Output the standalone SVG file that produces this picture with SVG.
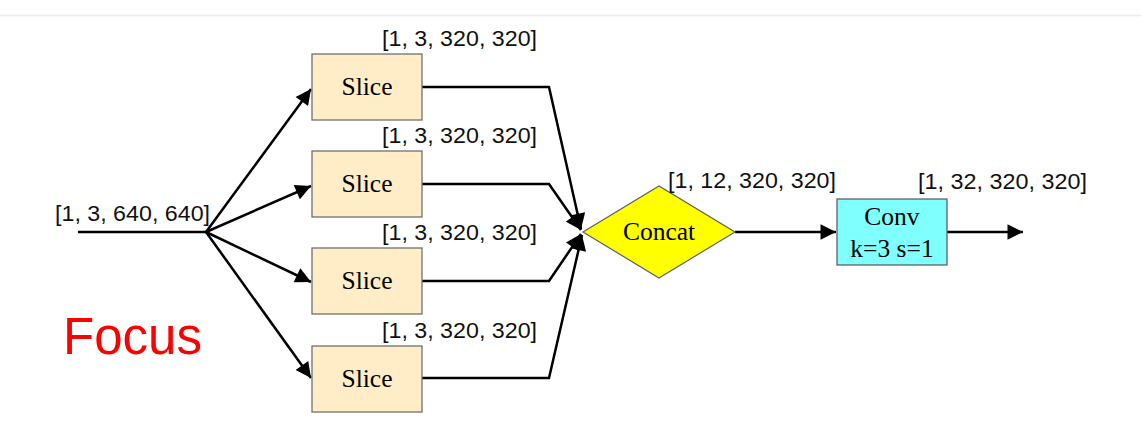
<svg xmlns="http://www.w3.org/2000/svg" width="1141" height="439" viewBox="0 0 1141 439">
  <defs>
    <marker id="arr" viewBox="0 0 10 10" refX="10" refY="5" markerWidth="7" markerHeight="6.2" markerUnits="strokeWidth" orient="auto">
      <path d="M0,0 L10,5 L0,10 z" fill="#000"/>
    </marker>
    <style>
      .lbl { font-family: "Liberation Sans", Arial, sans-serif; font-size: 22px; fill: #111; }
      .nt { font-family: "Liberation Serif", "Times New Roman", serif; font-size: 25.5px; fill: #000; text-anchor: middle; }
      .slice { fill: #FEEDC6; stroke: #707070; stroke-width: 1.3; }
      .conn { fill: none; stroke: #000; stroke-width: 2.5; stroke-linejoin: miter; }
      .arrow { marker-end: url(#arr); }
    </style>
  </defs>
  <rect width="1141" height="439" fill="#fff"/>
  <line x1="0" y1="15.5" x2="1141" y2="15.5" stroke="#ececec" stroke-width="1.5"/>

  <g id="connectors">
    <line class="conn" x1="78" y1="232" x2="206" y2="232"/>
    <line class="conn arrow" x1="206" y1="232" x2="311" y2="89"/>
    <line class="conn arrow" x1="206" y1="232" x2="311" y2="186"/>
    <line class="conn arrow" x1="206" y1="232" x2="311" y2="282"/>
    <line class="conn arrow" x1="206" y1="232" x2="311" y2="378"/>
    <polyline class="conn arrow" points="422,87 549,87 581,229"/>
    <polyline class="conn arrow" points="422,184 549,184 581,230"/>
    <polyline class="conn arrow" points="422,281 549,281 581,234"/>
    <polyline class="conn arrow" points="422,378 549,378 582,235"/>
    <line class="conn arrow" x1="735" y1="232" x2="836" y2="232"/>
    <line class="conn arrow" x1="947" y1="232" x2="1023" y2="232"/>
  </g>

  <g id="input-label">
    <text class="lbl" x="55" y="221" textLength="155" lengthAdjust="spacingAndGlyphs">[1, 3, 640, 640]</text>
  </g>

  <g id="slice1">
    <rect class="slice" x="312" y="54" width="110" height="66"/>
    <text class="nt" x="367" y="95">Slice</text>
    <text class="lbl" x="382" y="46" textLength="155" lengthAdjust="spacingAndGlyphs">[1, 3, 320, 320]</text>
  </g>
  <g id="slice2">
    <rect class="slice" x="312" y="151" width="110" height="66"/>
    <text class="nt" x="367" y="192">Slice</text>
    <text class="lbl" x="382" y="143" textLength="155" lengthAdjust="spacingAndGlyphs">[1, 3, 320, 320]</text>
  </g>
  <g id="slice3">
    <rect class="slice" x="312" y="248" width="110" height="66"/>
    <text class="nt" x="367" y="289">Slice</text>
    <text class="lbl" x="382" y="240" textLength="155" lengthAdjust="spacingAndGlyphs">[1, 3, 320, 320]</text>
  </g>
  <g id="slice4">
    <rect class="slice" x="312" y="346" width="110" height="66"/>
    <text class="nt" x="367" y="387">Slice</text>
    <text class="lbl" x="382" y="338" textLength="155" lengthAdjust="spacingAndGlyphs">[1, 3, 320, 320]</text>
  </g>

  <g id="concat">
    <polygon points="583,232 659,186 735,232 659,278" fill="#FFFF00" stroke="#606060" stroke-width="1.2"/>
    <text class="nt" x="659" y="240">Concat</text>
    <text class="lbl" x="668" y="188" textLength="168" lengthAdjust="spacingAndGlyphs">[1, 12, 320, 320]</text>
  </g>

  <g id="conv">
    <rect x="837" y="199" width="110" height="66" fill="#80FFFF" stroke="#606060" stroke-width="1.3"/>
    <text class="nt" x="892" y="225">Conv</text>
    <text class="nt" x="892" y="257">k=3 s=1</text>
    <text class="lbl" x="918" y="189" textLength="169" lengthAdjust="spacingAndGlyphs">[1, 32, 320, 320]</text>
  </g>

  <g id="title">
    <text x="63" y="354" font-family="Liberation Sans, Arial, sans-serif" font-size="51" fill="#FF0000" textLength="139" lengthAdjust="spacingAndGlyphs">Focus</text>
  </g>
</svg>
